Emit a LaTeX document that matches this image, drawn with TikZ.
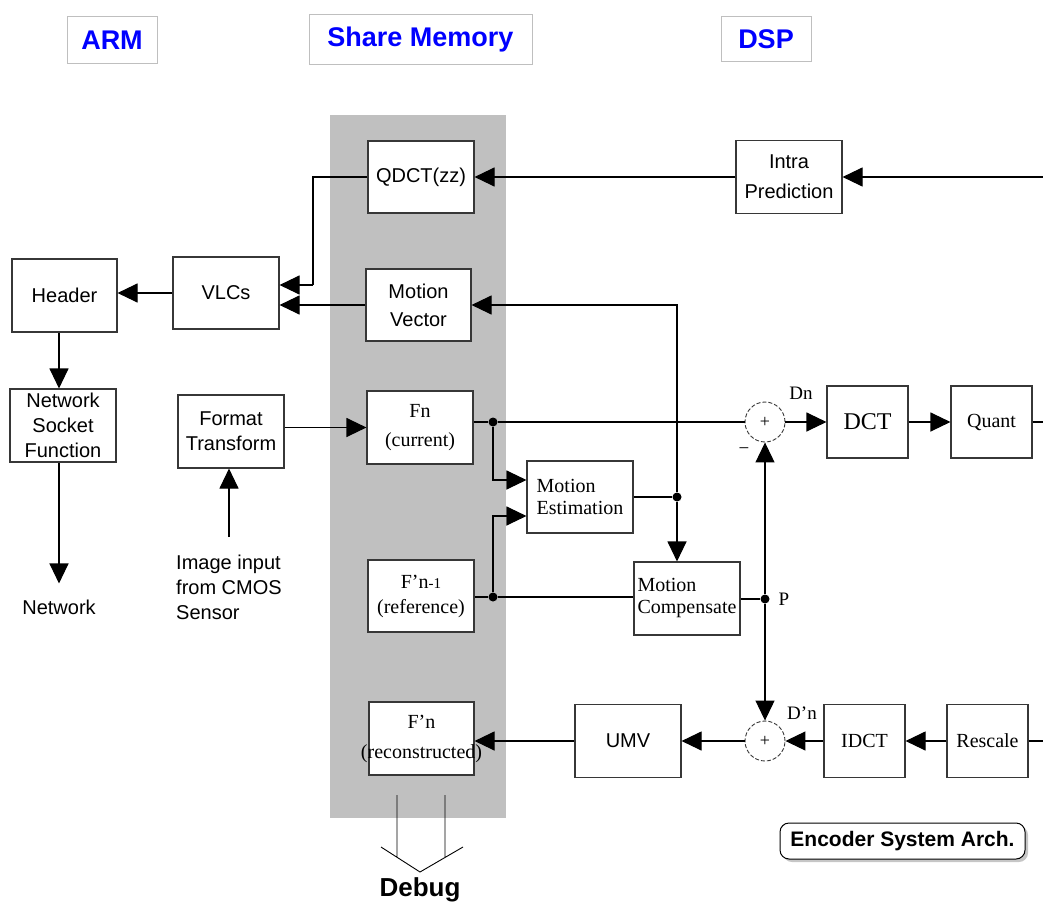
\documentclass[tikz,border=0pt]{standalone}
\usepackage{fontspec}
\setmainfont{Liberation Serif}
\setsansfont{Liberation Sans}
\usepackage{tikz}
\usetikzlibrary{arrows.meta, shadows, calc}
\definecolor{memgray}{RGB}{192,192,192}
\definecolor{tagblue}{RGB}{0,0,255}
\definecolor{boxline}{RGB}{55,55,55}
\newcommand{\sflab}{\fontsize{20}{25}\selectfont\sffamily}
\newcommand{\rmlab}{\fontsize{20}{25}\selectfont\rmfamily}

\begin{document}
\begin{tikzpicture}[
    x=1pt, y=-1pt,
    conn/.style={line width=1.1pt, black},
    arr/.style={conn, -{Triangle[length=20pt, width=19pt]}},
    tagbox/.style={draw=gray!50, line width=1pt, fill=white, inner sep=0pt,
                   font=\fontsize{27}{30}\selectfont\sffamily\bfseries, text=tagblue},
    sbox/.style={draw=boxline, line width=1.1pt, fill=white, align=center, inner sep=1pt,
                 minimum width=106pt, minimum height=73pt, font=\sflab},
    rbox/.style={sbox, font=\rmlab},
    sumc/.style={circle, draw=boxline, dash pattern=on 4pt off 2pt, line width=0.9pt,
                 fill=white, minimum size=40pt, inner sep=0pt, font=\fontsize{18}{18}\selectfont},
    jdot/.style={circle, fill=black, inner sep=0pt, minimum size=9pt},
    sig/.style={font=\fontsize{19}{19}\selectfont\rmfamily, inner sep=0pt},
  ]
    \useasboundingbox (0,0) rectangle (1043,904);

    % --- Shared memory column ---
    \fill[memgray] (330,115) rectangle (506,818);

    % --- Tags ---
    \node[tagbox, minimum width=90pt, minimum height=47pt]  (arm) at (112,40.5)   {ARM};
    \node[tagbox, minimum width=223pt, minimum height=50pt] (shm) at (420.5,40)   {Share Memory};
    \node[tagbox, minimum width=90pt, minimum height=45pt]  (dsp) at (766,39.5)   {DSP};

    % --- ARM side ---
    \node[sbox, minimum width=105pt] (hdr) at (64.5,295.5) {Header};
    \node[sbox, minimum height=72pt] (vlc) at (226,293)    {VLCs};
    \node[sbox] (nsf) at (63,425.5) {Network\\Socket\\Function};
    \node[font=\sflab, inner sep=0pt] (net) at (59,607) {Network};
    \node[sbox] (ft) at (231,431.5) {Format\\Transform};
    \node[font=\sflab, align=left, anchor=north west, inner sep=0pt] (img) at (176,555)
      {Image input\\from CMOS\\Sensor};
    \coordinate (imgtop) at (229,537);

    % --- Share memory ---
    \node[sbox, minimum height=72pt] (qdct) at (421,177) {QDCT(zz)};
    \node[sbox, minimum width=105pt, minimum height=72pt, font=\fontsize{20}{28}\selectfont\sffamily]
      (mv) at (418.5,305) {Motion\\Vector};
    \node[rbox, font=\fontsize{20}{29}\selectfont\rmfamily] (fn) at (420,427.5) {Fn\\(current)};
    \node[rbox, minimum height=72pt] (fref) at (421,596)
      {F'n{\fontsize{15}{15}\selectfont -1}\\(reference)};
    \node[rbox, minimum width=105pt, font=\fontsize{20}{30}\selectfont\rmfamily] (frec) at (421.5,738.5)
      {F'n\\\makebox[0pt]{(reconstructed)}};

    % --- DSP side ---
    \node[sbox, font=\fontsize{20}{30}\selectfont\sffamily] (intra) at (789,177) {Intra\\Prediction};
    \node[rbox, minimum height=72pt, align=left, font=\fontsize{20}{22}\selectfont\rmfamily]
      (me) at (580,497) {Motion\\Estimation};
    \node[rbox, align=left, inner sep=0pt, font=\fontsize{20}{22}\selectfont\rmfamily]
      (mc) at (687,598.5) {Motion\\Compensate};
    \node[sumc] (sum1) at (765,422) {+};
    \node[rbox, minimum width=81pt, minimum height=72pt, font=\fontsize{24}{24}\selectfont\rmfamily]
      (dct) at (867.5,422) {DCT};
    \node[rbox, minimum width=81pt, minimum height=72pt] (quant) at (991.5,422) {Quant};
    \node[sbox] (umv) at (628,741) {UMV};
    \node[sumc] (sum2) at (765,741) {+};
    \node[rbox, minimum width=81pt] (idct) at (864.5,741) {IDCT};
    \node[rbox, minimum width=81pt] (resc) at (987.5,741) {Rescale};

    % --- Junctions and signal labels ---
    \node[jdot] (d1) at (493,422) {};
    \node[jdot] (d2) at (493,597) {};
    \node[jdot] (d3) at (677,497) {};
    \node[jdot] (d4) at (765,599) {};
    \node[sig] (dn)  at (801,393) {Dn};
    \node[sig] (mns) at (744,451) {−};
    \node[sig] (pp)  at (784,599) {P};
    \node[sig] (dpn) at (802,713) {D'n};
    \coordinate (inR)  at (1043,177);
    \coordinate (outR) at (1043,422);
    \coordinate (inR2) at (1043,741);
    \coordinate (qv)   at (313,285);

    % --- Connectors ---
    \draw[arr] (inR) -- (intra.east);
    \draw[arr] (intra.west) -- (qdct.east);
    \draw[conn] (qdct.west) -| (qv);
    \draw[arr] (qv) -- (qv -| vlc.east);
    \draw[arr] (mv.west) -- (mv.west -| vlc.east);
    \draw[arr] (vlc.west) -- (vlc.west -| hdr.east);
    \draw[arr] (hdr.south -| net.north) -- (nsf.north -| net.north);
    \draw[arr] (nsf.south -| net.north) -- ([yshift=16pt]net.north);
    \draw[arr] (imgtop) -- (imgtop |- ft.south);
    \draw[arr] (fn.west -| ft.east) -- (fn.west);

    \draw[conn] (fn.east |- d1) -- (d1) -- (sum1.west);
    \draw[arr] (d1) |- ([yshift=17pt]me.west);
    \draw[conn] (fref.east |- d2) -- (d2) -- (d2 -| mc.west);
    \draw[arr] (d2) |- ([yshift=-19pt]me.west);
    \draw[conn] (me.east |- d3) -- (d3);
    \draw[arr] (d3) -- (d3 |- mc.north);
    \draw[arr] (d3) |- (mv.east);
    \draw[conn] (mc.east |- d4) -- (d4);
    \draw[arr] (d4) -- (sum1.south);
    \draw[arr] (d4) -- (sum2.north);
    \draw[arr] (sum1.east) -- (dct.west);
    \draw[arr] (dct.east) -- (quant.west);
    \draw[conn] (quant.east) -- (outR);

    \draw[conn] (inR2) -- (resc.east);
    \draw[arr] (resc.west) -- (idct.east);
    \draw[arr] (idct.west) -- (sum2.east);
    \draw[arr] (sum2.west) -- (umv.east);
    \draw[arr] (umv.west) -- (umv.west -| frec.east);

    % --- Debug outlet ---
    \draw[line width=0.9pt] (397,795) -- (397,857) (445,795) -- (445,857)
      (381,847) -- (420,872) -- (463,847);
    \node[font=\fontsize{26}{26}\selectfont\sffamily\bfseries, inner sep=0pt] (dbg) at (420,890) {Debug};

    % --- Caption box ---
    \node[draw=black, line width=1pt, rounded corners=9pt, fill=white,
          drop shadow={shadow xshift=3pt, shadow yshift=-3pt, fill=gray!45, opacity=1},
          minimum width=245pt, minimum height=36pt,
          font=\fontsize{21}{21}\selectfont\sffamily\bfseries] (arch) at (902.5,841) {Encoder System Arch.};
  \end{tikzpicture}
\end{document}
